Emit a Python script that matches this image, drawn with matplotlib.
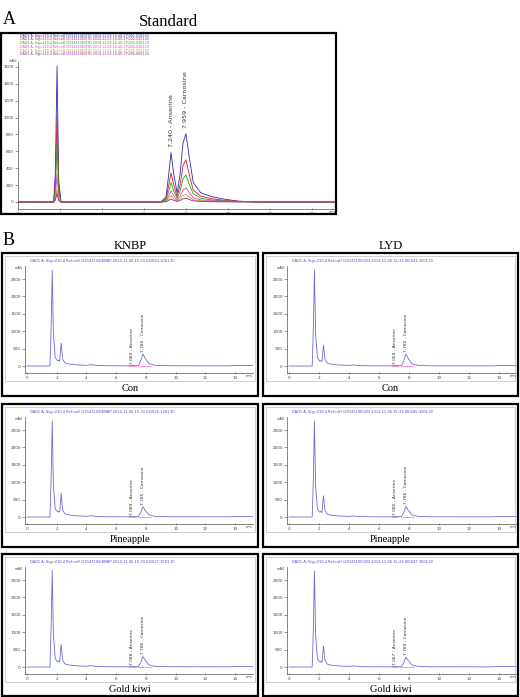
import matplotlib.pyplot as plt
from matplotlib.patches import Rectangle
from matplotlib.ticker import MultipleLocator

plt.rcParams['font.family'] = 'DejaVu Sans'

W, H = 520, 697

# ---- A: standard traces (time in min, signal in mAU) ----
t_std = [0, 1.70, 1.78, 1.86, 1.94, 2.05, 6.80, 7.05, 7.18, 7.29, 7.42, 7.58,
         7.72, 7.86, 8.00, 8.14, 8.35, 8.70, 9.20, 9.80, 10.5, 11.5, 15.2]
std_blue = [0, 0, 350, 1610, 250, 0, 0, 60, 330, 585, 330, 105,
            330, 700, 810, 560, 230, 110, 65, 35, 10, 0, 0]
std_red = [0, 0, 220, 1010, 160, 0, 0, 35, 200, 345, 200, 65,
           200, 430, 500, 340, 140, 70, 40, 20, 8, 0, 0]
std_green = [0, 0, 150, 700, 110, 0, 0, 25, 130, 230, 130, 45,
             130, 275, 320, 220, 95, 45, 25, 12, 5, 0, 0]
std_magenta = [0, 0, 70, 330, 50, 0, 0, 12, 75, 130, 75, 25,
               70, 140, 165, 115, 50, 25, 15, 10, 8, 3, 0]
std_olive = [0, 0, 35, 150, 25, 0, 0, 6, 40, 75, 40, 14,
             38, 78, 90, 62, 27, 13, 7, 4, 2, 0, 0]
std_purple = [0, 0, 22, 100, 15, 0, 0, 3, 20, 35, 20, 7,
              18, 38, 45, 30, 13, 7, 4, 2, 0, 0, 0]
std_traces = [std_blue, std_red, std_green, std_magenta, std_olive, std_purple]
std_colors = ['#2a2ab4', '#d42020', '#22a022', '#e040c8', '#c8a400', '#8a28a8']
std_files = ['001-0101.D', '002-0201.D', '003-0301.D',
             '004-0401.D', '005-0501.D', '006-0601.D']
std_peak_t = [7.29, 8.00]
std_peak_labels = ['7.240 - Anserine', '7.959 - Carnosine']
std_label_base = [650, 880]

# ---- B: sample traces ----
t_smp = [0, 1.55, 1.63, 1.70, 1.78, 1.90, 2.05, 2.12, 2.20, 2.30, 2.40, 2.55,
         2.8, 3.3, 4.0, 4.3, 4.7, 5.5, 6.8, 7.05, 7.3, 7.5, 7.65, 7.8, 7.95,
         8.2, 8.6, 9.5, 13.5, 14.0, 15.3]
knbp_con = [0, 0, 1200, 2760, 900, 250, 150, 170, 140, 660, 200, 90,
            60, 35, 20, 40, 15, 8, 5, 22, 8, 20, 150, 345, 220,
            70, 20, 8, 5, 15, 12]
lyd_con = [0, 0, 1150, 2760, 880, 230, 140, 160, 130, 600, 190, 85,
           55, 30, 18, 30, 12, 6, 4, 20, 6, 18, 140, 345, 215,
           65, 18, 6, 4, 12, 10]
knbp_pine = [0, 0, 1180, 2765, 890, 240, 150, 165, 140, 676, 205, 90,
             60, 35, 20, 38, 15, 8, 5, 20, 8, 18, 130, 294, 190,
             60, 18, 8, 5, 12, 10]
lyd_pine = [0, 0, 1150, 2750, 870, 230, 140, 160, 130, 610, 190, 85,
            55, 30, 18, 30, 12, 6, 4, 20, 6, 16, 125, 300, 195,
            60, 18, 6, 4, 12, 10]
knbp_gold = [0, 0, 1200, 2780, 900, 250, 150, 170, 140, 650, 200, 90,
             60, 35, 20, 38, 15, 8, 5, 22, 8, 18, 130, 300, 195,
             60, 18, 8, 5, 12, 10]
lyd_gold = [0, 0, 1150, 2760, 880, 230, 140, 160, 130, 600, 190, 85,
            55, 30, 18, 30, 12, 6, 4, 20, 6, 16, 120, 285, 185,
            58, 18, 6, 4, 12, 10]
smp_traces = [[knbp_con, lyd_con], [knbp_pine, lyd_pine], [knbp_gold, lyd_gold]]
smp_rows = ['Con', 'Pineapple', 'Gold kiwi']
smp_cols = ['KNBP', 'LYD']
smp_ans = [['7.089 - Anserine', '7.069 - Anserine'],
           ['7.089 - Anserine', '7.085 - Anserine'],
           ['7.088 - Anserine', '7.067 - Anserine']]
smp_car = [['7.785 - Carnosine', '7.780 - Carnosine'],
           ['7.785 - Carnosine', '7.786 - Carnosine'],
           ['7.786 - Carnosine', '7.789 - Carnosine']]
smp_peak_t = [7.05, 7.80]
smp_files = [['023-1001.D', '043-3001.D'], ['025-1201.D', '045-3201.D'],
             ['027-1501.D', '047-3501.D']]
# integration baseline (pink) segments
integ_t = [[6.85, 7.30], [7.45, 8.35]]
integ_y = [[4, 4], [6, 6]]

fig = plt.figure(figsize=(W / 100, H / 100), dpi=100)


def fbox(x0, y0, x1, y1):
    return [x0 / W, 1 - y1 / H, (x1 - x0) / W, (y1 - y0) / H]


def frame(x0, y0, x1, y1, lw=1.6, color='black'):
    fig.add_artist(Rectangle((x0 / W, 1 - y1 / H), (x1 - x0) / W, (y1 - y0) / H,
                             transform=fig.transFigure, fill=False, lw=lw,
                             edgecolor=color))


def ftext(x, y, s, **kw):
    fig.text(x / W, 1 - y / H, s, **kw)


def style_axis(ax, ystep):
    for s in ['top', 'right']:
        ax.spines[s].set_visible(False)
    for s in ['left', 'bottom']:
        ax.spines[s].set_linewidth(0.5)
        ax.spines[s].set_color('#555555')
    ax.xaxis.set_major_locator(MultipleLocator(2))
    ax.xaxis.set_minor_locator(MultipleLocator(0.5))
    ax.yaxis.set_major_locator(MultipleLocator(ystep))
    ax.tick_params(axis='both', which='major', labelsize=3, length=2, width=0.4,
                   pad=1, colors='#444444')
    ax.tick_params(axis='x', which='minor', length=1, width=0.3, colors='#555555')
    ax.tick_params(axis='x', direction='inout')
    ax.set_facecolor('none')


serif = 'Liberation Serif'

# ---------------- Panel A ----------------
ftext(3, 20, 'A', fontsize=13, family=serif, va='center')
ftext(168, 22, 'Standard', fontsize=12, family=serif, va='center', ha='center')
frame(0.8, 33, 336, 214)

axA = fig.add_axes(fbox(18, 62, 335, 209))
for tr, c in zip(std_traces, std_colors):
    axA.plot(t_std, tr, color=c, lw=0.6)
axA.set_xlim(0, 15.1)
axA.set_ylim(-83, 1659)
style_axis(axA, 200)
axA.set_yticks(range(0, 1601, 200))
for t, lab, yb in zip(std_peak_t, std_peak_labels, std_label_base):
    axA.text(t, yb, lab, rotation=90, fontsize=4.6, ha='center', va='bottom',
             color='#333333')
ftext(13, 61, 'mAU', fontsize=2.5, ha='center', va='center', color='#444444')
ftext(332, 212, 'min', fontsize=2.5, ha='center', va='center', color='#444444')
for i, (c, f) in enumerate(zip(std_colors, std_files)):
    ftext(20, 35.5 + i * 3.8,
          'DAD1 A, Sig=210,4 Ref=off (20141106\\STD 2014-11-06 14-40-17\\' + f + ')',
          fontsize=2.3, color=c, va='center')

# ---------------- Panel B ----------------
ftext(3, 241, 'B', fontsize=13, family=serif, va='center')
col_x = [(2, 258), (263, 518)]
col_axis = [(25, 253), (287, 517)]
row_top = [253, 404, 554]
row_bot = [396, 547, 696]
for j, name in enumerate(smp_cols):
    ftext((col_x[j][0] + col_x[j][1]) / 2, 246, name, fontsize=9, family=serif,
          ha='center', va='center')

for i in range(3):
    dy = row_top[i] - 253
    for j in range(2):
        x0, x1 = col_x[j]
        frame(x0, row_top[i], x1, row_bot[i])
        frame(x0 + 3, row_top[i] + 3, x1 - 3, 381 + dy, lw=0.5, color='#bbbbbb')
        ax = fig.add_axes(fbox(col_axis[j][0], 266 + dy, col_axis[j][1], 373 + dy))
        ax.plot(t_smp, smp_traces[i][j], color='#6c6cd8', lw=0.6)
        for tt, yy in zip(integ_t, integ_y):
            ax.plot(tt, yy, color='#ff66cc', lw=0.5)
        ax.set_xlim(-0.13, 15.2)
        ax.set_ylim(-201, 2874)
        style_axis(ax, 500)
        ax.set_yticks(range(0, 2501, 500))
        ax.text(smp_peak_t[0], 60, smp_ans[i][j], rotation=90, fontsize=3.2,
                ha='center', va='bottom', color='#333333')
        pk = smp_traces[i][j][t_smp.index(7.8)]
        ax.text(smp_peak_t[1], pk + 60, smp_car[i][j], rotation=90, fontsize=3.2,
                ha='center', va='bottom', color='#333333')
        ftext(col_axis[j][0] - 6, 268 + dy, 'mAU', fontsize=2.5, ha='center',
              va='center', color='#444444')
        ftext(col_axis[j][1] - 4, 376 + dy, 'min', fontsize=2.5, ha='center',
              va='center', color='#444444')
        ftext(col_axis[j][0] + 5, 261 + dy,
              'DAD1 A, Sig=210,4 Ref=off (20141106\\' + smp_cols[j] +
              ' 2014-11-06 15-33-06\\' + smp_files[i][j] + ')',
              fontsize=2.6, color='#4848d0', va='center')
        ftext((x0 + x1) / 2, 388.5 + dy, smp_rows[i], fontsize=7.5, family=serif,
              ha='center', va='center')

fig.savefig('out.png', dpi=100)
